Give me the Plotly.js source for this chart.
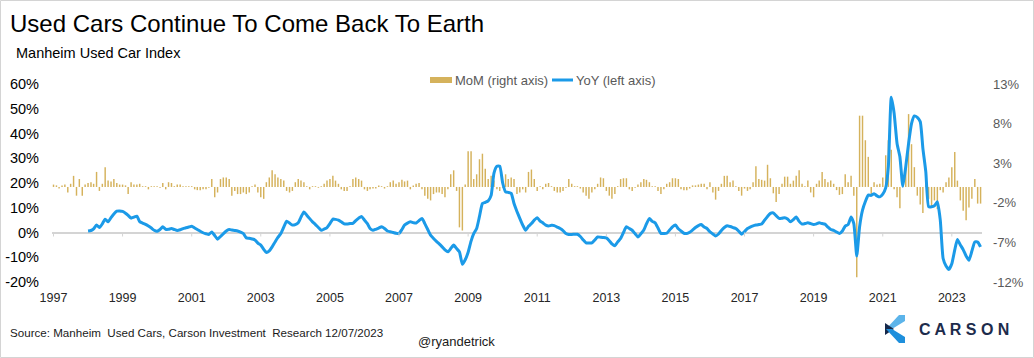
<!DOCTYPE html>
<html>
<head>
<meta charset="utf-8">
<script src="https://cdn.plot.ly/plotly-3.0.1.min.js"></script>
<style>html,body{margin:0;padding:0;background:#fff;}#chart{width:1034px;height:358px;}</style>
</head>
<body>
<div id="chart"></div>
<script>
// ---------- DATA ----------
// Monthly MoM % change (right axis), Jan 1997 .. Nov 2023
const momStart = [1997, 1];
const mom = [
  0.3, 0.2, -0.2, 0.2, 0.3, -0.7, 0.4, 1.4, -1.1, 1.0, -1.1, 0.3,      // 1997
  0.5, 0.6, 0.4, 1.9, -0.5, 0.4, 2.5, 0.8, 0.7, 1.0, 0.5, 0.3,        // 1998
  0.3, 0.2, -0.9, 0.6, 0.3, 0.3, 0.4, 0.1, 0.1, -0.3, 0.1, 0.1,       // 1999
  0.1, -0.1, 0.5, -0.3, 0.6, 0.5, 0.1, 0.3, 0.3, 0.1, 0.1, 0.1,       // 2000
  0.1, -0.3, -0.4, -0.4, -0.3, -0.3, -0.1, 1.0, -1.3, -0.7, 1.0, 1.2, // 2001
  1.2, 1.0, -1.1, -0.5, -0.9, -0.9, -0.7, -0.9, -0.7, 0.1, 0.3, -0.7, // 2002
  -1.3, -1.5, 0.6, 1.2, 2.1, 1.6, 1.2, 1.0, 0.8, -0.5, -0.7, -0.5,    // 2003
  0.6, 1.0, 0.8, 0.6, 0.1, -0.3, 0.1, 0.1, -0.1, 0.1, 0.4, 0.8,       // 2004
  1.0, 1.4, 0.8, 0.4, -0.3, -0.5, -0.5, 0.1, 1.0, 1.2, 1.0, 0.8,      // 2005
  -0.3, -0.5, -0.3, -0.2, -0.2, 0.2, 0.1, -0.2, 0.1, 0.6, 0.8, 0.4,   // 2006
  0.6, 0.9, 0.7, 0.8, -0.3, 0.2, 0.4, 0.5, -0.3, -1.1, -1.5, -1.7,    // 2007
  -0.9, -0.7, -0.7, -0.9, -1.3, -0.3, 1.6, 2.1, -0.5, -5.1, -5.5, 0.3, // 2008
  4.5, 4.5, 1.0, 1.6, 3.5, 4.2, 2.3, 1.0, 1.4, 0.8, -0.3, -0.5,       // 2009
  -0.1, 1.6, 1.0, 1.2, 1.0, -0.9, -0.7, -0.3, -0.7, 1.9, 2.2, 1.0,    // 2010
  -0.5, 0.1, -0.3, 0.4, 0.5, 0.1, -0.5, -0.7, -0.7, -0.5, -0.1, 1.0,  // 2011
  0.4, 0.1, 0.1, -0.2, -0.7, -1.1, -1.5, -0.7, -0.3, 0.4, 1.2, 1.1,   // 2012
  -0.5, -1.1, -1.5, -0.9, 0.1, 1.0, 1.1, 1.1, -0.3, -0.5, -0.1, 0.3,  // 2013
  0.6, 1.0, 0.9, 0.6, 0.1, 0.1, -0.5, -0.9, -0.3, 0.4, 0.6, 1.1,      // 2014
  1.1, 1.0, -0.3, -0.4, -0.4, -0.2, 0.2, 0.2, 0.3, 0.4, 0.4, -0.3,    // 2015
  0.6, -0.7, -1.6, -0.5, 0.4, 1.4, 1.4, 0.6, 0.8, 0.1, -0.5, -1.1,    // 2016
  -0.2, -0.5, -0.3, 0.6, 2.6, 1.0, 0.9, 0.8, 2.8, 1.1, -0.8, -1.9,    // 2017
  -0.9, 0.4, 1.3, 1.3, 0.4, 0.8, 1.4, 2.1, 0.4, 0.1, 0.8, -0.7,       // 2018
  -1.3, 0.4, 0.8, 1.9, 1.0, 0.6, 0.8, 0.4, -0.4, -1.0, -0.9, 1.6,     // 2019
  0.6, 1.4, -1.1, -11.4, 9.0, 9.0, 5.9, 3.8, -0.9, 0.6, 0.3, 0.4,     // 2020
  1.2, 4.0, 5.9, 4.7, -0.3, -1.3, -2.7, 1.2, 2.9, 9.2, 5.4, 2.5,      // 2021
  -1.1, -2.2, -3.3, 0.8, -1.5, -2.4, -1.7, -2.8, -0.4, -0.7, 0.6, 1.2, // 2022
  2.5, 4.4, 0.8, -1.7, -3.0, -4.2, -2.6, -1.5, 1.0, -2.1, -2.1        // 2023
];
// Monthly YoY % change (left axis), Jan 1998 .. Nov 2023
const yoyStart = [1998, 1];
const yoy = [
  0.6, 0.8, 1.5, 3.0, 2.0, 3.5, 5.4, 4.3, 6.0, 7.5, 8.6, 8.7,          // 1998
  8.5, 7.8, 6.9, 5.8, 6.2, 6.6, 4.4, 3.8, 3.3, 2.6, 1.8, 0.9,          // 1999
  0.5, 1.2, 2.3, 1.3, 1.3, 1.6, 1.2, 0.8, 1.1, 1.6, 1.9, 2.2,          // 2000
  2.5, 1.8, 1.2, 0.5, -0.1, -0.5, -0.8, 0.2, -1.2, -2.7, -1.6, -0.5,   // 2001
  0.6, 1.2, 1.0, 0.8, 0.6, 0.2, -0.4, -2.2, -2.3, -2.6, -3.0, -4.3,    // 2002
  -5.1, -6.8, -8.1, -7.4, -5.8, -3.8, -2.0, -0.4, 2.2, 4.6, 3.8, 3.0,  // 2003
  3.2, 3.9, 6.2, 8.3, 7.0, 5.6, 4.3, 3.2, 2.0, 0.9, 1.4, 2.0,          // 2004
  3.6, 5.4, 5.3, 5.0, 4.3, 3.5, 3.4, 3.6, 3.7, 4.8, 5.8, 6.5,          // 2005
  5.0, 3.6, 1.6, 0.9, 1.3, 1.8, 2.3, 1.6, 0.6, 0.3, 0.0, -0.3,         // 2006
  -0.4, 1.2, 3.0, 3.8, 4.3, 4.0, 3.8, 4.8, 5.7, 3.6, 1.2, -1.1,        // 2007
  -2.4, -3.6, -4.6, -5.8, -7.0, -7.8, -6.5, -5.1, -6.5, -7.8, -12.8, -11.0, // 2008
  -8.0, -3.5, -0.5, 1.6, 6.5, 11.7, 12.2, 12.8, 15.0, 24.0, 26.8, 26.8, // 2009
  20.0, 16.4, 16.2, 15.8, 11.7, 8.5, 5.7, 3.0, 0.9, 2.5, 3.6, 5.0,     // 2010
  6.0, 4.6, 3.9, 3.0, 2.6, 2.9, 2.8, 2.2, 1.6, 0.8, -0.4, -0.8,        // 2011
  -0.8, -0.7, -0.7, -1.6, -3.0, -4.2, -4.2, -4.2, -3.0, -1.8, -1.9, -2.0, // 2012
  -2.2, -3.3, -4.6, -5.4, -3.8, -2.4, 0.0, 2.3, 1.6, 0.9, -0.5, -1.8,  // 2013
  -0.5, 1.0, 3.5, 5.7, 4.5, 3.9, 1.8, -0.4, -0.4, -0.3, 1.0, 2.3,      // 2014
  3.0, 1.5, 0.6, -0.3, -0.4, 0.1, 1.0, 2.0, 2.8, 3.2, 2.2, 1.6,        // 2015
  0.3, -0.6, -1.4, -0.6, 0.8, 2.0, 2.7, 2.4, 2.0, 1.6, 0.5, -0.7,      // 2016
  0.4, 1.6, 2.2, 2.7, 3.0, 3.2, 3.4, 5.0, 6.5, 7.7, 7.9, 6.8,          // 2017
  5.7, 5.8, 6.0, 5.5, 4.3, 5.2, 6.3, 4.5, 3.4, 3.6, 3.9, 3.6,          // 2018
  3.2, 3.5, 3.9, 3.6, 3.4, 2.2, 1.2, 0.9, 0.2, -0.4, 0.6, 2.6,         // 2019
  3.2, 6.3, 3.6, -9.5, 2.3, 9.0, 12.5, 15.1, 15.0, 15.7, 14.8, 14.4,   // 2020
  15.5, 18.0, 26.6, 54.6, 48.2, 36.0, 30.6, 18.7, 26.6, 36.0, 44.0, 47.1, // 2021
  46.5, 44.8, 34.0, 24.5, 10.4, 10.4, 10.8, 12.4, 5.0, -10.5, -13.5, -14.9, // 2022
  -12.6, -7.0, -2.8, -5.0, -6.9, -9.5, -11.2, -7.5, -3.8, -3.9, -5.8   // 2023
];
// Axis tick labels
const yearTicks = ['1997','1999','2001','2003','2005','2007','2009','2011','2013','2015','2017','2019','2021','2023'];
const leftTicks = [-20, -10, 0, 10, 20, 30, 40, 50, 60];
const leftTickText = ['-20%', '-10%', '0%', '10%', '20%', '30%', '40%', '50%', '60%'];
const rightTicks = [-12, -7, -2, 3, 8, 13];
const rightTickText = ['-12%', '-7%', '-2%', '3%', '8%', '13%'];

// ---------- helpers ----------
function monthDates(start, n) {
  const out = [];
  let y = start[0], m = start[1];
  for (let i = 0; i < n; i++) {
    out.push(y + '-' + String(m).padStart(2, '0') + '-01');
    m++; if (m > 12) { m = 1; y++; }
  }
  return out;
}
const momDates = monthDates(momStart, mom.length);
const yoyDates = monthDates(yoyStart, yoy.length);
const tickDates = yearTicks.map(y => y + '-01-01');

const W = 1034, H = 358;
const PL = 52, PR = 982, PT = 84, PB = 282;
const px = x => (x - PL) / (PR - PL);
const py = y => (PB - y) / (PB - PT);

const FONT = 'Liberation Sans, Arial, sans-serif';
const GOLD = '#D5B25C';
const BLUE = '#1B9AE8';
const AXIS_GREY = '#d4d4d4';
const XRANGE = ['1996-12-16', '2023-11-16'];

const traces = [
  {
    type: 'bar', name: 'MoM (right axis)', x: momDates, y: mom,
    xaxis: 'x', yaxis: 'y',
    marker: { color: GOLD, line: { width: 0 } },
    hoverinfo: 'skip'
  },
  {
    type: 'scatter', mode: 'lines', name: 'YoY (left axis)', x: yoyDates, y: yoy,
    xaxis: 'x', yaxis: 'y2',
    line: { color: BLUE, width: 3, shape: 'spline', smoothing: 0.5 },
    hoverinfo: 'skip'
  }
];

function logoPath(pts) {
  return 'M ' + pts.map(p => px(p[0]) + ',' + py(p[1])).join(' L ') + ' Z';
}

// zero-line position of the left axis in paper units (category axis crosses at 0%)
const zeroPaper = (0 - leftTicks[0]) / (leftTicks[leftTicks.length - 1] - leftTicks[0]);
const tickMarkShapes = tickDates.map(d => ({
  type: 'line', xref: 'x', yref: 'paper', x0: d, x1: d,
  y0: zeroPaper, y1: zeroPaper - 4 / (PB - PT),
  line: { color: AXIS_GREY, width: 1 }
}));

const shapes = [
  // outer frame
  { type: 'rect', xref: 'paper', yref: 'paper', x0: px(0.5), x1: px(1033.5), y0: py(0.5), y1: py(357.5),
    line: { color: AXIS_GREY, width: 1 }, fillcolor: 'rgba(0,0,0,0)' },
  // legend swatches
  { type: 'rect', xref: 'paper', yref: 'paper', x0: px(430), x1: px(452), y0: py(83), y1: py(77),
    line: { width: 0 }, fillcolor: GOLD },
  { type: 'line', xref: 'paper', yref: 'paper', x0: px(552), x1: px(573), y0: py(80), y1: py(80),
    line: { color: BLUE, width: 3 } },
  // Carson logo mark
  { type: 'path', xref: 'paper', yref: 'paper', path: logoPath([[899,315],[905,315],[905,321],[892,329],[886,329]]),
    line: { width: 0 }, fillcolor: '#5CB4EA' },
  { type: 'path', xref: 'paper', yref: 'paper', path: logoPath([[885,323],[894,329],[885,335]]),
    line: { width: 0 }, fillcolor: '#16284A' },
  { type: 'path', xref: 'paper', yref: 'paper', path: logoPath([[886,329],[892,329],[905,337],[905,343],[899,343]]),
    line: { width: 0 }, fillcolor: '#1E8FDC' }
].concat(tickMarkShapes);

const annotations = [
  { text: 'Manheim Used Car Index', xref: 'paper', yref: 'paper', x: px(14), y: py(53),
    xanchor: 'left', yanchor: 'middle', showarrow: false, font: { family: FONT, size: 14.5, color: '#000' } },
  { text: 'MoM (right axis)', xref: 'paper', yref: 'paper', x: px(453), y: py(80),
    xanchor: 'left', yanchor: 'middle', showarrow: false, font: { family: FONT, size: 13, color: '#595959' } },
  { text: 'YoY (left axis)', xref: 'paper', yref: 'paper', x: px(574), y: py(80),
    xanchor: 'left', yanchor: 'middle', showarrow: false, font: { family: FONT, size: 13, color: '#595959' } },
  { text: 'Source: Manheim  Used Cars, Carson Investment  Research 12/07/2023', xref: 'paper', yref: 'paper',
    x: px(8), y: py(332), xanchor: 'left', yanchor: 'middle', showarrow: false,
    font: { family: FONT, size: 11.6, color: '#1a1a1a' } },
  { text: '@ryandetrick', xref: 'paper', yref: 'paper', x: px(456), y: py(341),
    xanchor: 'center', yanchor: 'middle', showarrow: false, font: { family: FONT, size: 13, color: '#1a1a1a' } },
  { text: 'C A R S O N', xref: 'paper', yref: 'paper', x: px(917), y: py(329),
    xanchor: 'left', yanchor: 'middle', showarrow: false, font: { family: FONT, size: 16, color: '#1D2C4C', weight: 'bold' } }
];

const layout = {
  width: W, height: H, autosize: false,
  margin: { l: PL, r: W - PR, t: PT, b: H - PB, pad: 0 },
  paper_bgcolor: '#fff', plot_bgcolor: 'rgba(0,0,0,0)',
  font: { family: FONT },
  showlegend: false, hovermode: false, bargap: 0.45,
  title: {
    text: 'Used Cars Continue To Come Back To Earth',
    font: { family: FONT, size: 24, color: '#000' },
    xref: 'container', yref: 'container', x: 10 / W, xanchor: 'left', y: 1 - 23.5 / H, yanchor: 'middle'
  },
  xaxis: {
    type: 'date', range: XRANGE, tickmode: 'array', tickvals: tickDates, ticktext: yearTicks,
    showgrid: false, zeroline: false, showline: false, ticks: '',
    tickfont: { family: FONT, size: 12.5, color: '#262626' }, ticklabelstandoff: 6, fixedrange: true
  },
  yaxis: {
    side: 'right', range: [-12, 13], tickmode: 'array', tickvals: rightTicks, ticktext: rightTickText,
    showgrid: false, zeroline: false, showline: false, ticks: '',
    tickfont: { family: FONT, size: 13, color: '#595959' }, ticklabelstandoff: 10
  },
  yaxis2: {
    side: 'left', overlaying: 'y', range: [-20, 60], tickmode: 'array', tickvals: leftTicks, ticktext: leftTickText,
    showgrid: false, zeroline: true, zerolinecolor: AXIS_GREY, zerolinewidth: 2, showline: false, ticks: '',
    tickfont: { family: FONT, size: 14.5, color: '#000' }, ticklabelstandoff: 12
  },
  shapes: shapes,
  annotations: annotations
};

Plotly.newPlot('chart', traces, layout, { displayModeBar: false, staticPlot: true });
</script>
</body>
</html>
